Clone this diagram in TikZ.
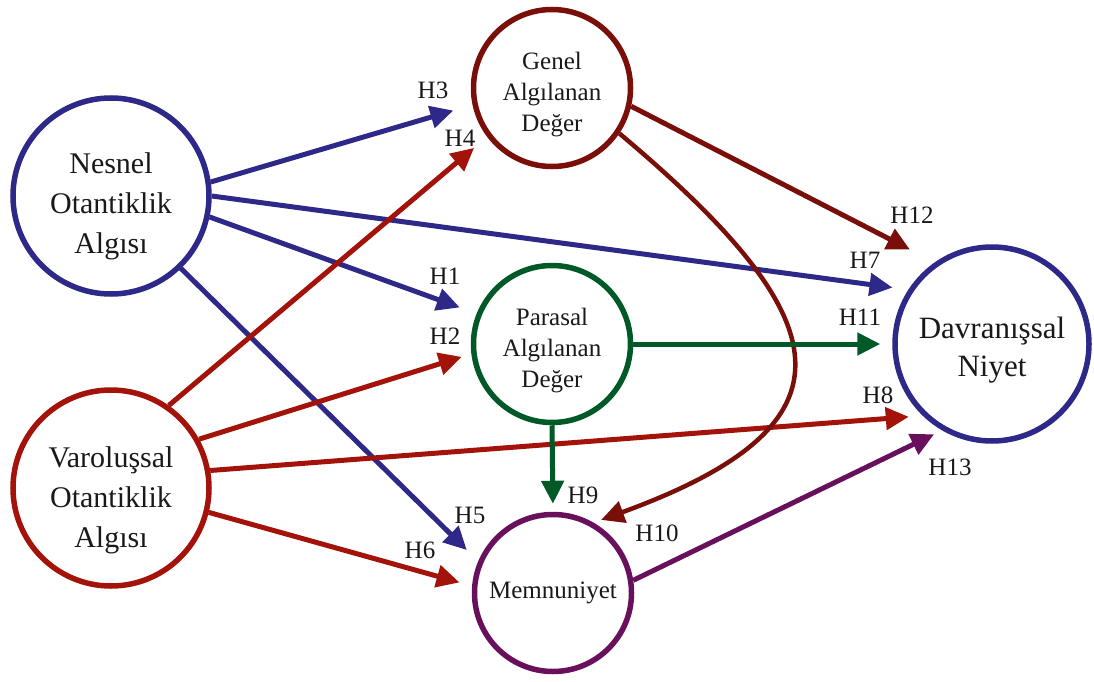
\documentclass[tikz,border=0pt]{standalone}
\usepackage{fontspec}
\setmainfont{Liberation Serif}
\usepackage{xcolor}
\usepackage{tikz}
\usetikzlibrary{arrows.meta}

\definecolor{nblue}{RGB}{46,40,136}
\definecolor{vred}{RGB}{163,19,9}
\definecolor{gbrown}{RGB}{122,15,10}
\definecolor{pgreen}{RGB}{0,89,38}
\definecolor{mpurple}{RGB}{104,16,92}

\begin{document}
\begin{tikzpicture}[x=1pt, y=1pt, >={Triangle[length=23pt,width=22pt]},
  big/.style={circle, draw, line width=5.5pt, minimum size=196pt, inner sep=0pt},
  mid/.style={circle, draw, line width=5.5pt, minimum size=157pt, inner sep=0pt},
  bigtext/.style={align=center, text=black!90, yshift=-10pt,
    font=\fontsize{30}{40}\selectfont},
  midtext/.style={align=center, text=black!90, yshift=-7pt,
    font=\fontsize{25}{31}\selectfont},
  hyp/.style={->, line width=5pt},
  hlab/.style={text=black!90, font=\fontsize{25}{28}\selectfont}]
  \useasboundingbox (0,0) rectangle (1094,-682);

  \node[big, draw=nblue, label={[bigtext]center:{Nesnel\\Otantiklik\\Algısı}}]
    (nesnel) at (111,-196) {};
  \node[big, draw=vred, label={[bigtext, yshift=-2pt]center:{Varoluşsal\\Otantiklik\\Algısı}}]
    (varol) at (111,-488) {};
  \node[mid, draw=gbrown, label={[midtext]center:{Genel\\Algılanan\\Değer}}]
    (genel) at (552,-88) {};
  \node[mid, draw=pgreen, label={[midtext]center:{Parasal\\Algılanan\\Değer}}]
    (parasal) at (552,-344) {};
  \node[mid, draw=mpurple, label={[midtext, yshift=7pt]center:Memnuniyet}]
    (memnun) at (553,-593) {};
  \node[big, draw=nblue, minimum size=194pt,
    label={[bigtext, yshift=4pt, font=\fontsize{31}{38}\selectfont]center:{Davranışsal\\Niyet}}]
    (niyet) at (992,-344) {};

  \draw[hyp, nblue, shorten >=20pt] (nesnel.8) -- (genel.192);
  \draw[hyp, nblue, shorten >=16pt] (nesnel.0) -- (niyet.147);
  \draw[hyp, nblue, shorten >=18pt] (nesnel.-12) -- (parasal.158);
  \draw[hyp, nblue, shorten >=16pt] (nesnel.-46) -- (memnun.157);
  \draw[hyp, vred, shorten >=17pt] (varol.55) -- (genel.217);
  \draw[hyp, vred, shorten >=10pt] (varol.29) -- (parasal.187);
  \draw[hyp, vred, shorten >=14pt] (varol.10) -- (niyet.226);
  \draw[hyp, vred, shorten >=13pt] (varol.-14) -- (memnun.175);
  \draw[hyp, gbrown, shorten >=28pt] (genel.-13) -- (niyet.125);
  \draw[hyp, gbrown, line width=4.5pt, shorten >=8pt] (genel.-34)
    to[out=-40, in=20, looseness=1.9] (memnun.60);
  \draw[hyp, pgreen, shorten >=12pt] (parasal.0) -- (niyet.180);
  \draw[hyp, pgreen, shorten >=8pt] (parasal.-90) -- (memnun.90);
  \draw[hyp, mpurple, shorten >=9pt] (memnun.9) -- (niyet.240);

  \node[hlab] (h1) at (445,-276) {H1};
  \node[hlab] (h2) at (445,-336) {H2};
  \node[hlab] (h3) at (433,-90) {H3};
  \node[hlab] (h4) at (460,-138) {H4};
  \node[hlab] (h5) at (470,-515) {H5};
  \node[hlab] (h6) at (420,-550) {H6};
  \node[hlab] (h7) at (865,-260) {H7};
  \node[hlab] (h8) at (878,-395) {H8};
  \node[hlab] (h9) at (583,-495) {H9};
  \node[hlab] (h10) at (657,-533) {H10};
  \node[hlab] (h11) at (860,-317) {H11};
  \node[hlab] (h12) at (912,-215) {H12};
  \node[hlab] (h13) at (950,-467) {H13};
\end{tikzpicture}
\end{document}
